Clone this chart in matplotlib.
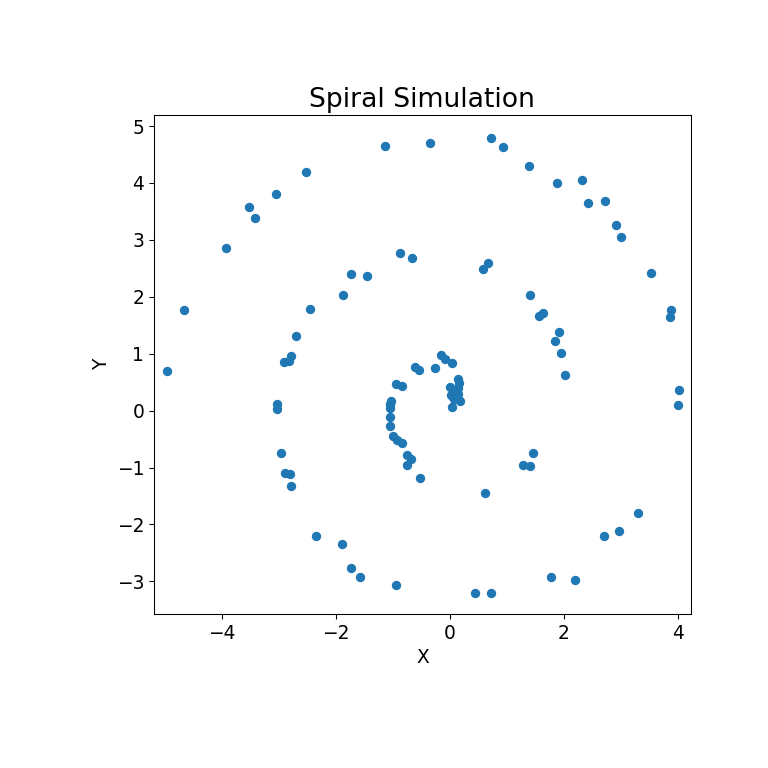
import matplotlib.pyplot as plt

# points, outer arm to inner cluster
x = [-2.52, -3.05, -3.51, -3.42, -3.92, -1.13, -0.34, 0.73, 0.94, 1.38,
     1.87, 2.31, 2.43, 2.72, 2.91, 3.00, 3.52, 3.88, 3.86, 4.02,
     4.00, -4.65, -4.96, 3.30, 2.96, 2.70, 1.77, 2.19, 0.44, 0.73,
     -0.95, -1.57, -1.73, -1.89, -2.35, -2.78, -2.80, -2.89, -2.95, -3.02,
     -3.02, -2.90, -2.81, -2.79, -2.69, -2.45, -1.87, -1.73, -1.45, -0.87,
     -0.66, 0.58, 0.67, 1.41, 1.57, 1.63, 1.91, 1.85, 1.94, 2.01,
     1.45, 1.29, 1.40, 0.62, -0.52, -0.75, -0.68, -0.75, -0.83, -0.93,
     -1.00, -1.05, -1.05, -1.05, -1.04, -1.03, -0.94, -0.83, -0.61, -0.54,
     -0.26, -0.15, -0.08, 0.03, 0.14, 0.16, 0.00, 0.15, 0.02, 0.15,
     0.06, 0.18, 0.04, 0.10, 0.08]
y = [4.19, 3.80, 3.57, 3.39, 2.86, 4.65, 4.70, 4.79, 4.63, 4.30,
     4.00, 4.05, 3.64, 3.69, 3.26, 3.05, 2.41, 1.77, 1.64, 0.37,
     0.09, 1.76, 0.69, -1.79, -2.12, -2.21, -2.93, -2.97, -3.20, -3.20,
     -3.06, -2.93, -2.77, -2.34, -2.20, -1.33, -1.12, -1.09, -0.74, 0.03,
     0.11, 0.85, 0.87, 0.96, 1.31, 1.78, 2.04, 2.40, 2.37, 2.77,
     2.68, 2.49, 2.59, 2.04, 1.67, 1.71, 1.38, 1.22, 1.01, 0.62,
     -0.74, -0.95, -0.98, -1.44, -1.18, -0.95, -0.85, -0.78, -0.57, -0.52,
     -0.45, -0.27, -0.12, 0.05, 0.12, 0.17, 0.47, 0.44, 0.77, 0.71,
     0.75, 0.97, 0.90, 0.83, 0.55, 0.48, 0.42, 0.39, 0.27, 0.30,
     0.24, 0.17, 0.07, 0.35, 0.20]

fig = plt.figure(figsize=(8, 8), dpi=96)
ax = fig.add_axes([0.2, 0.2, 0.7, 0.65])
ax.scatter(x, y, s=36, color="#1f77b4")

ax.set_xlim(-5.19, 4.23)
ax.set_ylim(-3.58, 5.19)
ax.set_title("Spiral Simulation", fontsize=20)
ax.set_xlabel("X", fontsize=14)
ax.set_ylabel("Y", fontsize=14)
ax.tick_params(labelsize=14)

plt.savefig("out.png", dpi=96)
